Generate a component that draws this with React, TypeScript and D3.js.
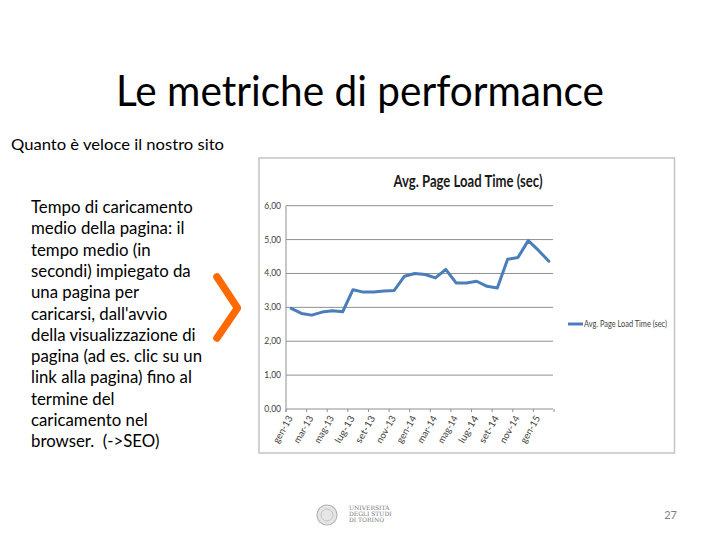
import React, { useEffect } from 'react';
import * as d3 from 'd3';

// Months gen-13 .. feb-15
const months = [
  'gen-13', 'feb-13', 'mar-13', 'apr-13', 'mag-13', 'giu-13', 'lug-13', 'ago-13', 'set-13', 'ott-13', 'nov-13', 'dic-13',
  'gen-14', 'feb-14', 'mar-14', 'apr-14', 'mag-14', 'giu-14', 'lug-14', 'ago-14', 'set-14', 'ott-14', 'nov-14', 'dic-14',
  'gen-15', 'feb-15',
];
const loadTime = [
  2.97, 2.82, 2.77, 2.86, 2.9, 2.87, 3.52, 3.45, 3.45, 3.48, 3.5, 3.92, 4.0,
  3.97, 3.87, 4.12, 3.72, 3.72, 3.77, 3.62, 3.57, 4.42, 4.47, 4.97, 4.68, 4.36,
];
const yTicks = [0, 1, 2, 3, 4, 5, 6];
const seriesName = 'Avg. Page Load Time (sec)';

const bodyLines = [
  'Tempo di caricamento',
  'medio della pagina: il',
  'tempo medio (in',
  'secondi) impiegato da',
  'una pagina per',
  "caricarsi, dall'avvio",
  'della visualizzazione di',
  'pagina (ad es. clic su un',
  'link alla pagina) fino al',
  'termine del',
  'caricamento nel',
  'browser.  (->SEO)',
];

const FONT = 'Lato, "Open Sans", sans-serif';

const App: React.FC = () => {
  useEffect(() => {
    document.body.style.margin = '0';
  }, []);

  // plot area
  const x = d3.scaleBand<string>().domain(months).range([286, 554]).padding(0);
  const y = d3.scaleLinear().domain([0, 6]).range([409, 205.7]);

  const line = d3.line<number>()
    .x((_, i) => (x(months[i]) as number) + x.bandwidth() / 2)
    .y(d => y(d))
    .curve(d3.curveLinear);

  const fmt = (v: number) => v.toFixed(2).replace('.', ',');
  const tickIdx = months.map((_, i) => i).filter(i => i % 2 === 0);

  return (
    <svg width={720} height={540} style={{ display: 'block', background: '#fff' }}>
      {/* Slide title */}
      <text x={360} y={106} textAnchor="middle" fontFamily={FONT} fontSize={42}
        textLength={488} lengthAdjust="spacingAndGlyphs" fill="#000">
        Le metriche di performance
      </text>
      <text x={11} y={150} fontFamily={FONT} fontSize={16} fill="#000"
        textLength={213} lengthAdjust="spacingAndGlyphs">
        Quanto è veloce il nostro sito
      </text>
      {bodyLines.map((l, i) => (
        <text key={i} x={31} y={213 + i * 21.3} fontFamily={FONT} fontSize={16.8} fill="#000"
          style={{ whiteSpace: 'pre' }}>
          {l}
        </text>
      ))}

      {/* chevron */}
      <path d="M217,277 L237.5,308 L217,338" fill="none" stroke="#FF6A00" strokeWidth={7.5}
        strokeLinecap="round" strokeLinejoin="round" />

      {/* chart frame */}
      <rect x={259} y={158} width={415.5} height={295} fill="#fff" stroke="#c4c4c4" strokeWidth={1.5} />
      <text x={468} y={187} textAnchor="middle" fontFamily={FONT} fontWeight="bold" fontSize={17}
        textLength={149} lengthAdjust="spacingAndGlyphs" fill="#1a1a1a">
        {seriesName}
      </text>

      {/* grid + y labels */}
      {yTicks.map(t => (
        <g key={t}>
          <line x1={286} x2={553} y1={y(t)} y2={y(t)} stroke="#8f8f8f" strokeWidth={1} />
          <text x={281} y={y(t)} dy="0.35em" textAnchor="end" fontFamily={FONT} fontSize={8.5} fill="#404040">
            {fmt(t)}
          </text>
        </g>
      ))}
      <line x1={286} x2={286} y1={y(6)} y2={y(0) + 3} stroke="#8f8f8f" strokeWidth={1} />

      {/* x ticks */}
      {[...tickIdx.map(i => x(months[i]) as number), 554].map((tx, i) => (
        <line key={i} x1={tx} x2={tx} y1={y(0)} y2={y(0) + 3} stroke="#8f8f8f" strokeWidth={1} />
      ))}
      {tickIdx.map(i => {
        const cx = (x(months[i]) as number) + x.bandwidth() / 2;
        return (
          <text key={i} x={0} y={0} textAnchor="end" fontFamily={FONT} fontSize={9.5} fill="#404040"
            textLength={30} lengthAdjust="spacingAndGlyphs"
            transform={`translate(${cx + 2},${y(0) + 9}) rotate(-60)`}>
            {months[i]}
          </text>
        );
      })}

      {/* series */}
      <path d={line(loadTime) || ''} fill="none" stroke="#4A7EBB" strokeWidth={3}
        strokeLinejoin="round" strokeLinecap="round" />

      {/* legend */}
      <line x1={568} x2={583} y1={324} y2={324} stroke="#4A7EBB" strokeWidth={3} />
      <text x={584} y={324} dy="0.35em" fontFamily={FONT} fontSize={8.5} fill="#404040"
        textLength={83} lengthAdjust="spacingAndGlyphs">
        {seriesName}
      </text>

      {/* footer logo */}
      <circle cx={327} cy={515} r={10} fill="#e6e6e6" stroke="#b5b5b5" strokeWidth={1.2} />
      <circle cx={327} cy={515} r={6} fill="none" stroke="#c2c2c2" strokeWidth={1} />
      <text x={349} y={510} fontFamily="'DejaVu Serif', serif" fontSize={6} fill="#777">UNIVERSITÀ</text>
      <text x={349} y={516} fontFamily="'DejaVu Serif', serif" fontSize={6} fill="#777">DEGLI STUDI</text>
      <text x={349} y={522} fontFamily="'DejaVu Serif', serif" fontSize={6} fill="#777">DI TORINO</text>

      <text x={677} y={519} textAnchor="end" fontFamily={FONT} fontSize={11} fill="#7f7f7f">27</text>
    </svg>
  );
};

export default App;
